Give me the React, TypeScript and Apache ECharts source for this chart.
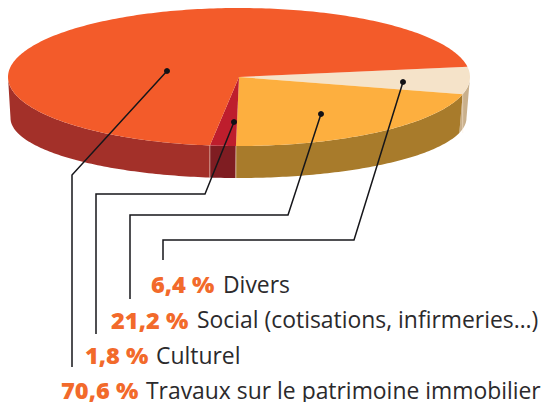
import React, { useEffect, useRef } from "react";
import * as echarts from "echarts";

const categories = ["Divers", "Social (cotisations, infirmeries…)", "Culturel", "Travaux sur le patrimoine immobilier"];
const values = [6.4, 21.2, 1.8, 70.6];
const percentLabels = ["6,4 %", "21,2 %", "1,8 %", "70,6 %"];
const topColors = ["#F5E3C9", "#FDAF3F", "#BE1E2D", "#F35B2A"];
const sideColors = ["#C9B08C", "#A87B2B", "#7F1D22", "#A33029"];
const percentX = [151, 111, 85, 61];
const nameX = [223, 197, 156, 146];
const textTopY = [272, 307.5, 343, 378];
const leaders = [
  [[403, 82], [354, 240], [163, 240], [163, 260]],
  [[321, 114], [288, 215], [130, 215], [130, 299]],
  [[234, 122], [205, 194], [96, 194], [96, 334]],
  [[167, 71], [72, 175], [72, 367]],
];

const START_DEG = -8.6;
const top = { cx: 239, cy: 77, rx: 231, ry: 69 };
const bottom = { cx: 238.5, cy: 118, rx: 228, ry: 60 };
const FONT = "'Open Sans'";

const pt = (e: any, deg: number) => {
  const r = (deg * Math.PI) / 180;
  return [e.cx + e.rx * Math.cos(r), e.cy + e.ry * Math.sin(r)];
};
const arc = (e: any, a: number, b: number) => {
  const n = Math.max(2, Math.ceil(Math.abs(b - a)));
  const out: number[][] = [];
  for (let i = 0; i <= n; i++) out.push(pt(e, a + ((b - a) * i) / n));
  return out;
};

export default function App() {
  const ref = useRef<HTMLDivElement>(null);
  useEffect(() => {
    const chart = echarts.init(ref.current!, undefined, { renderer: "svg" });
    const total = values.reduce((s, v) => s + v, 0);
    const starts: number[] = [];
    let acc = START_DEG;
    values.forEach((v) => {
      starts.push(acc);
      acc += (v / total) * 360;
    });

    const graphics: any[] = [];
    leaders.forEach((points) => {
      graphics.push({ type: "polyline", z: 20, shape: { points }, style: { fill: "none", stroke: "#16161a", lineWidth: 1.5 } });
      graphics.push({ type: "circle", z: 21, shape: { cx: points[0][0], cy: points[0][1], r: 3 }, style: { fill: "#111116" } });
    });
    categories.forEach((name, i) => {
      graphics.push({
        type: "text", z: 22, x: percentX[i], y: textTopY[i],
        style: { text: percentLabels[i], fontFamily: FONT, fontWeight: 800, fontSize: 23.6, lineHeight: 24, fill: "#F26A2B" },
      });
      graphics.push({
        type: "text", z: 22, x: nameX[i], y: textTopY[i],
        style: { text: name, fontFamily: FONT, fontSize: 22.9, lineHeight: 24, fill: "#2B2A2C" },
      });
    });

    chart.setOption({
      animation: false,
      graphic: graphics,
      series: [
        {
          type: "custom",
          coordinateSystem: "none",
          z: 2,
          silent: true,
          data: values.map((v, i) => ({ name: categories[i], value: [v, i] })),
          renderItem: (_p: any, api: any) => {
            const v = api.value(0) as number;
            const i = api.value(1) as number;
            const a = starts[i];
            const b = a + (v / total) * 360;
            const children: any[] = [];
            const segs = [[Math.max(a, 0), Math.min(b, 180)]];
            segs.forEach(([s, e]) => {
              if (e <= s) return;
              const pts = [...arc(top, s, e), ...arc(bottom, e, s)];
              children.push({ type: "polygon", shape: { points: pts }, style: { fill: sideColors[i] } });
              [s, e].forEach((d) => {
                if (d > 0 && d < 180) {
                  const p = pt(top, d);
                  const q = pt(bottom, d);
                  children.push({
                    type: "line",
                    z2: 3,
                    shape: { x1: p[0], y1: p[1], x2: p[0], y2: q[1] },
                    style: { stroke: "rgba(255,235,220,0.35)", lineWidth: 0.8 },
                  });
                }
              });
            });
            const pts = [[top.cx, top.cy], ...arc(top, a, b)];
            children.push({ type: "polygon", z2: 2, shape: { points: pts }, style: { fill: topColors[i] } });
            return { type: "group", children };
          },
        },
      ],
    });
    return () => chart.dispose();
  }, []);
  return <div ref={ref} style={{ position: "absolute", left: 0, top: 0, width: 544, height: 402 }} />;
}
